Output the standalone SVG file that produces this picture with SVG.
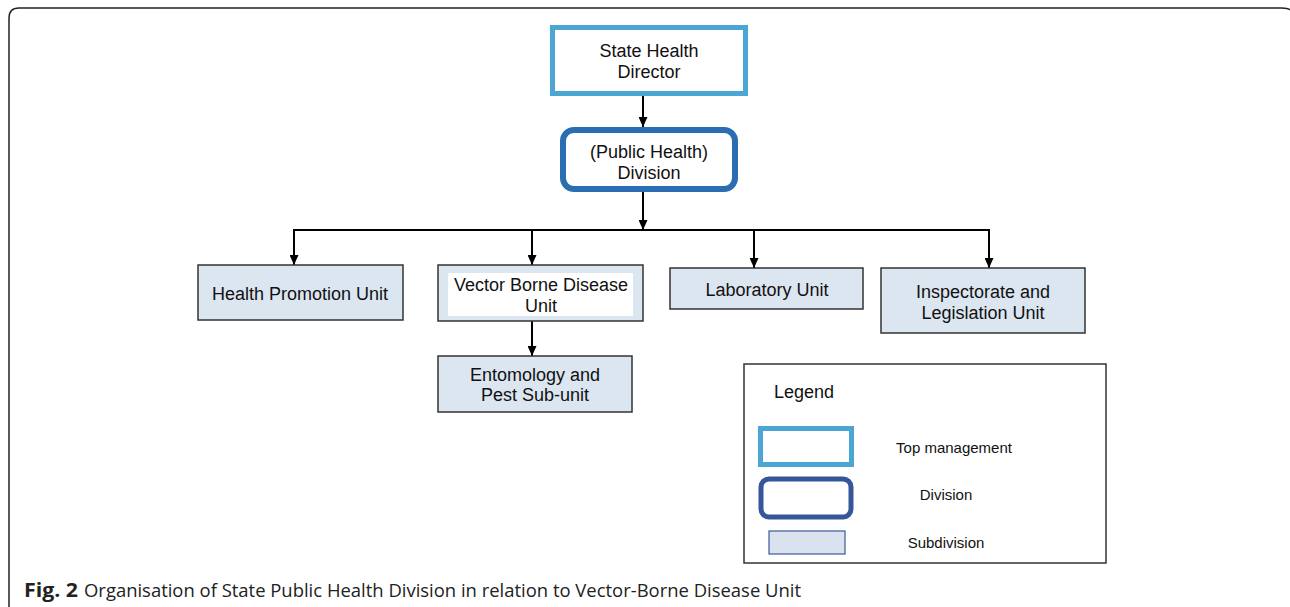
<svg xmlns="http://www.w3.org/2000/svg" width="1290" height="607" viewBox="0 0 1290 607">
<defs>
<marker id="ah" markerWidth="10" markerHeight="9" refX="10" refY="4.5" orient="auto" markerUnits="userSpaceOnUse" viewBox="0 0 10 9">
<path d="M0,0 L10,4.5 L0,9 Z" fill="#000"/>
</marker>
<style>
.t{font-family:"Liberation Sans",Arial,sans-serif;font-size:18px;fill:#111;text-anchor:middle}
.sub{fill:#dce6f1;stroke:#333;stroke-width:1.5}
.c{stroke:#000;stroke-width:2;fill:none}
.ca{stroke:#000;stroke-width:2;fill:none;marker-end:url(#ah)}
.lt{font-family:"Liberation Sans",Arial,sans-serif;font-size:15px;fill:#111;text-anchor:middle}
</style>
</defs>
<rect width="1290" height="607" fill="#fff"/>
<path d="M9,607 L9,18 Q9,8 19,8 L1282,8 Q1288,8 1290,10" fill="none" stroke="#222" stroke-width="1.5"/>

<g id="connectors">
<line class="ca" x1="643" y1="96" x2="643" y2="127"/>
<line class="ca" x1="643" y1="192" x2="643" y2="230"/>
<line class="c" x1="293" y1="230" x2="990" y2="230"/>
<line class="ca" x1="294" y1="230" x2="294" y2="265"/>
<line class="ca" x1="532" y1="230" x2="532" y2="265"/>
<line class="ca" x1="754" y1="230" x2="754" y2="268"/>
<line class="ca" x1="989" y1="230" x2="989" y2="268"/>
<line class="ca" x1="532" y1="321" x2="532" y2="356"/>
</g>

<g id="state-health-director">
<rect x="552.5" y="27.5" width="193" height="66" fill="#fff" stroke="#4ba6d4" stroke-width="5"/>
<text class="t" x="649" y="57">State Health</text>
<text class="t" x="649" y="78">Director</text>
</g>

<g id="public-health-division">
<rect x="563" y="130" width="172" height="59" rx="11" fill="#fff" stroke="#2a6db3" stroke-width="6"/>
<text class="t" x="649" y="158">(Public Health)</text>
<text class="t" x="649" y="179">Division</text>
</g>

<g id="health-promotion-unit">
<rect class="sub" x="198" y="265" width="205" height="55"/>
<text class="t" x="300" y="300">Health Promotion Unit</text>
</g>

<g id="vector-borne-disease-unit">
<rect class="sub" x="438" y="265" width="205" height="56"/>
<rect x="448" y="273" width="185" height="43" fill="#fff"/>
<text class="t" x="541" y="291">Vector Borne Disease</text>
<text class="t" x="541" y="312">Unit</text>
</g>

<g id="laboratory-unit">
<rect class="sub" x="670" y="268" width="193" height="41"/>
<text class="t" x="767" y="296">Laboratory Unit</text>
</g>

<g id="inspectorate-legislation-unit">
<rect class="sub" x="881" y="268" width="204" height="65"/>
<text class="t" x="983" y="298">Inspectorate and</text>
<text class="t" x="983" y="319">Legislation Unit</text>
</g>

<g id="entomology-pest-subunit">
<rect class="sub" x="438" y="356" width="194" height="56"/>
<text class="t" x="535" y="381">Entomology and</text>
<text class="t" x="535" y="401">Pest Sub-unit</text>
</g>

<g id="legend">
<rect x="744" y="364" width="362" height="199" fill="#fff" stroke="#333" stroke-width="1.5"/>
<text x="774" y="398" style="font-family:'Liberation Sans',Arial,sans-serif;font-size:18px;fill:#111">Legend</text>
<rect x="760.5" y="428.5" width="91" height="36" fill="#fff" stroke="#4ba6d4" stroke-width="5"/>
<text class="lt" x="954" y="453">Top management</text>
<rect x="761" y="479" width="90" height="38" rx="8" fill="#fff" stroke="#35579a" stroke-width="5"/>
<text class="lt" x="946" y="500">Division</text>
<rect x="769" y="531" width="76" height="23" fill="#dae1ef" stroke="#3a5a9a" stroke-width="1.2"/>
<text class="lt" x="946" y="548">Subdivision</text>
</g>

<g id="caption">
<text x="24" y="597" style="font-family:'Open Sans',sans-serif;font-size:19px;font-weight:bold;fill:#222" textLength="54" lengthAdjust="spacingAndGlyphs">Fig. 2</text>
<text x="84" y="597" style="font-family:'Open Sans',sans-serif;font-size:19px;fill:#222" textLength="717" lengthAdjust="spacingAndGlyphs">Organisation of State Public Health Division in relation to Vector-Borne Disease Unit</text>
</g>
</svg>
